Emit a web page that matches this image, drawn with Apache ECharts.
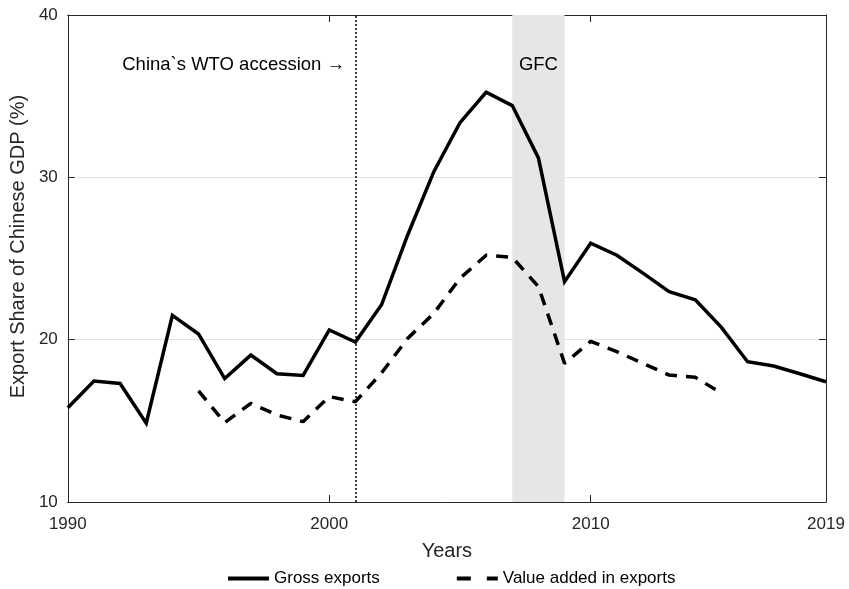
<!DOCTYPE html>
<html>
<head>
<meta charset="utf-8">
<script src="https://cdn.jsdelivr.net/npm/echarts@6/dist/echarts.min.js"></script>
<style>
html, body { margin: 0; padding: 0; background: #fff; }
#chart { width: 849px; height: 589px; }
</style>
</head>
<body>
<div id="chart"></div>
<script>
// values
var grossYears = [1990,1991,1992,1993,1994,1995,1996,1997,1998,1999,2000,2001,2002,2003,2004,2005,2006,2007,2008,2009,2010,2011,2012,2013,2014,2015,2016,2017,2018,2019];
var grossExports = [15.8,17.45,17.3,14.85,21.5,20.35,17.6,19.05,17.9,17.8,20.6,19.85,22.15,26.45,30.35,33.37,35.24,34.42,31.2,23.57,25.94,25.2,24.1,22.96,22.45,20.76,18.64,18.38,17.9,17.41];

var vaYears = [1995,1996,1997,1998,1999,2000,2001,2002,2003,2004,2005,2006,2007,2008,2009,2010,2011,2012,2013,2014,2015];
var valueAdded = [16.84,14.89,16.08,15.36,14.95,16.49,16.18,17.95,20.08,21.62,23.78,25.2,25.07,23.27,18.54,19.9,19.26,18.54,17.82,17.68,16.7];

var yTicks = [10, 20, 30, 40];
var wtoYear = 2001;
var gfcYears = [2007, 2009];

function pairs(xs, ys) {
    var out = [];
    for (var i = 0; i < xs.length; i++) out.push([xs[i], ys[i]]);
    return out;
}

var axisColor = '#262626';
var font = 'Liberation Sans, Arial, sans-serif';

var myChart = echarts.init(document.getElementById('chart'));
myChart.setOption({
    animation: false,
    textStyle: { fontFamily: font },
    grid: { left: 67, right: 23, top: 15, bottom: 87 },
    legend: {
        top: 565,
        left: 223,
        itemWidth: 41,
        itemHeight: 4,
        itemGap: 77,
        textStyle: { fontSize: 17, color: '#000', fontFamily: font },
        data: [
            { name: 'Gross exports', icon: 'path://M0,0H41V4H0Z' },
            { name: 'Value added in exports', icon: 'path://M0,0H14V4H0Z M30,0H41V4H30Z' }
        ]
    },
    xAxis: [{
        type: 'value',
        min: 1990, max: 2019, interval: 10,
        name: 'Years',
        nameLocation: 'middle',
        nameGap: 39,
        nameTextStyle: { fontSize: 20, color: axisColor },
        axisLine: { show: true, onZero: false, lineStyle: { color: axisColor, width: 1 } },
        axisTick: { show: true, inside: true, length: 7, lineStyle: { color: axisColor } },
        axisLabel: { fontSize: 17, color: axisColor, margin: 14, formatter: function (v) { return String(v); } },
        splitLine: { show: false }
    }, {
        type: 'value', position: 'top',
        min: 1990, max: 2019, interval: 10,
        axisLine: { show: true, onZero: false, lineStyle: { color: axisColor, width: 1 } },
        axisTick: { show: true, inside: true, length: 7, lineStyle: { color: axisColor } },
        axisLabel: { show: false },
        splitLine: { show: false }
    }],
    yAxis: [{
        type: 'value',
        min: yTicks[0], max: yTicks[yTicks.length - 1], interval: 10,
        name: 'Export Share of Chinese GDP (%)',
        nameLocation: 'middle',
        nameGap: 31,
        nameTextStyle: { fontSize: 20, color: axisColor, padding: [0, 0, 0, 24] },
        axisLine: { show: true, onZero: false, lineStyle: { color: axisColor, width: 1 } },
        axisTick: { show: true, inside: true, length: 7, lineStyle: { color: axisColor } },
        axisLabel: { fontSize: 17, color: axisColor, margin: 10 },
        splitLine: { show: true, lineStyle: { color: '#e3e3e3', width: 1 } }
    }, {
        type: 'value', position: 'right',
        min: yTicks[0], max: yTicks[yTicks.length - 1], interval: 10,
        axisLine: { show: true, onZero: false, lineStyle: { color: axisColor, width: 1 } },
        axisTick: { show: true, inside: true, length: 7, lineStyle: { color: axisColor } },
        axisLabel: { show: false },
        splitLine: { show: false }
    }],
    series: [{
        name: 'Gross exports',
        type: 'line',
        symbol: 'none',
        z: 5,
        data: pairs(grossYears, grossExports),
        itemStyle: { color: '#000' },
        lineStyle: { color: '#000', width: 3.5, join: 'miter' },
        markArea: {
            silent: true,
            itemStyle: { color: '#e6e6e6' },
            label: {
                show: true,
                position: ['50%', 50],
                align: 'center',
                verticalAlign: 'middle',
                fontSize: 18.5,
                color: '#000',
                fontFamily: font
            },
            data: [[{ name: 'GFC', xAxis: gfcYears[0] }, { xAxis: gfcYears[1] }]]
        },
        markLine: {
            silent: true,
            symbol: 'none',
            label: { show: false },
            lineStyle: { color: '#000', type: [2, 2], width: 1.5 },
            data: [{ xAxis: wtoYear }]
        }
    }, {
        name: 'Value added in exports',
        type: 'line',
        symbol: 'none',
        z: 5,
        data: pairs(vaYears, valueAdded),
        itemStyle: { color: '#000' },
        lineStyle: { color: '#000', width: 3.5, type: [12, 9] }
    }],
    graphic: [{
        type: 'text',
        right: 849 - 345,
        top: 55,
        style: {
            text: 'China`s WTO accession \u2192',
            fontSize: 18.5,
            fill: '#000',
            fontFamily: font
        }
    }]
});
</script>
</body>
</html>
